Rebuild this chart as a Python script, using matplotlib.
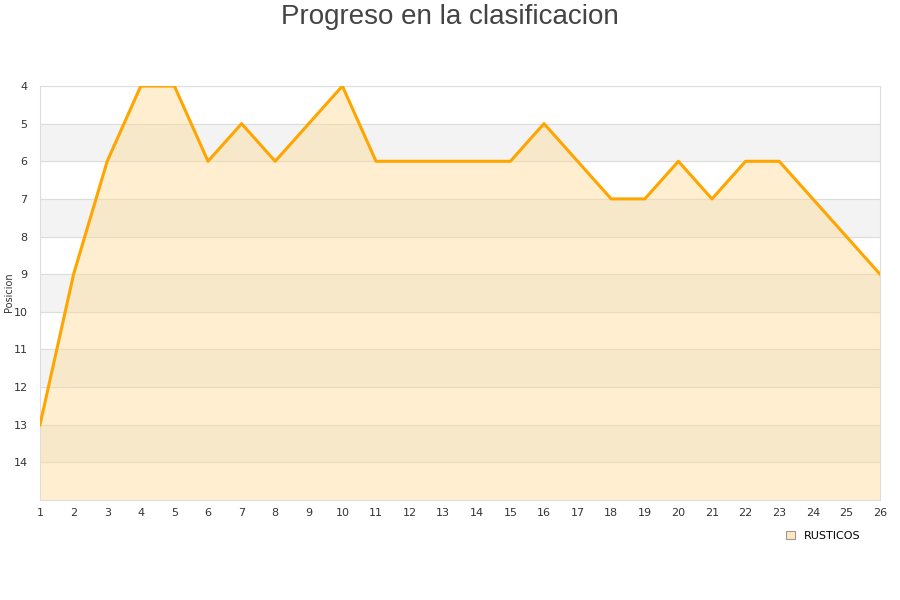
import matplotlib.pyplot as plt

jornadas = list(range(1, 27))
posicion = [13, 9, 6, 4, 4, 6, 5, 6, 5, 4, 6, 6, 6, 6, 6, 5, 6, 7, 7, 6, 7, 6, 6, 7, 8, 9]
yticks = list(range(4, 15))
equipo = "RUSTICOS"

fig = plt.figure(figsize=(9, 6), dpi=100)
ax = fig.add_axes([40 / 900, 1 - 500 / 600, 840 / 900, 414 / 600])

# bandas grises alternas
for y0 in range(5, 15, 2):
    ax.axhspan(y0, y0 + 1, color="#f3f3f3", zorder=0)
for y0 in range(4, 16):
    ax.axhline(y0, color="#dddddd", lw=0.8, zorder=1)

ax.fill_between(jornadas, posicion, 15, color="#ffd98a", alpha=0.4, lw=0, zorder=2)
ax.plot(jornadas, posicion, color="#ffa500", lw=2.2, zorder=3)

ax.set_xlim(1, 26)
ax.set_ylim(15, 4)
ax.set_xticks(jornadas)
ax.set_yticks(yticks)
ax.tick_params(length=0, labelsize=8, colors="#333333", pad=6)
ax.tick_params(axis="y", pad=9)
for s in ax.spines.values():
    s.set_color("#dddddd")

fig.text(9 / 900, 1 - 292 / 600, "Posicion", rotation=90, ha="center", va="center",
         fontsize=7, color="#333333")

fig.text(0.5, 1 - 17 / 600, "Progreso en la clasificacion", ha="center", va="center",
         fontsize=20, color="#444444", family="Liberation Sans")

fig.legend([plt.Rectangle((0, 0), 1, 1, fc="#ffe8c0", ec="#999999", lw=0.8)], [equipo],
           loc="center", bbox_to_anchor=(0.915, 0.107), frameon=False, fontsize=8,
           handlelength=0.8, handleheight=0.8)

plt.savefig("out.png")
